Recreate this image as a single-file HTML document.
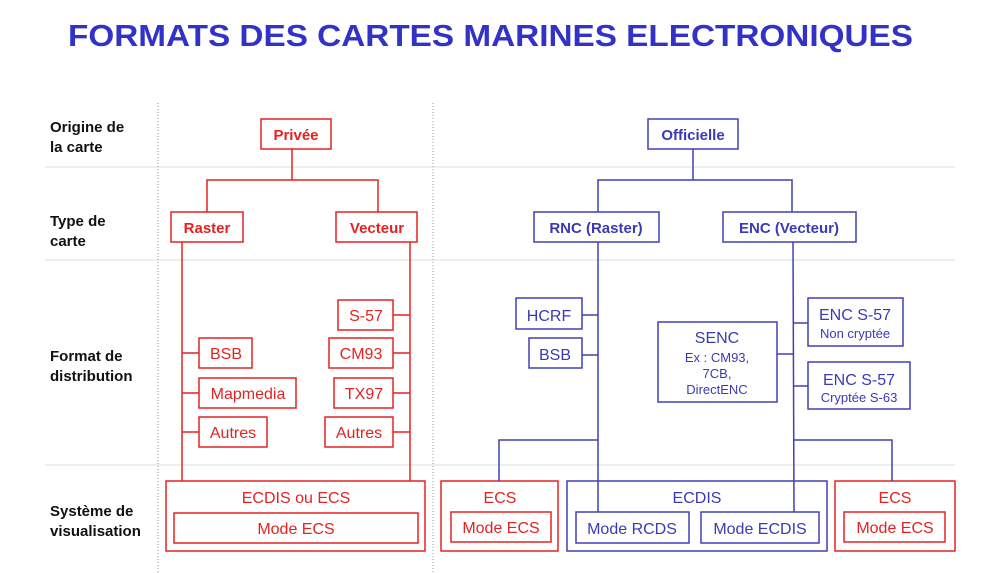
<!DOCTYPE html>
<html><head><meta charset="utf-8"><style>
body{margin:0;background:#fff;width:1000px;height:573px;overflow:hidden}
svg{display:block;font-family:"Liberation Sans",Arial,sans-serif}
</style></head><body>
<svg width="1000" height="573" viewBox="0 0 1000 573">
<text x="68" y="46" font-size="31" font-weight="bold" fill="#3232c8" textLength="845" lengthAdjust="spacingAndGlyphs">FORMATS DES CARTES MARINES ELECTRONIQUES</text>
<g stroke="#dddddd" stroke-width="1">
<line x1="45" y1="167" x2="955" y2="167"/><line x1="45" y1="260" x2="955" y2="260"/><line x1="45" y1="465" x2="955" y2="465"/>
</g>
<g stroke="#999" stroke-width="1" stroke-dasharray="1,2">
<line x1="158" y1="103" x2="158" y2="573"/><line x1="433" y1="103" x2="433" y2="573"/>
</g>
<g font-size="15" font-weight="bold" fill="#111">
<text x="50" y="132">Origine de</text><text x="50" y="152">la carte</text>
<text x="50" y="226">Type de</text><text x="50" y="246">carte</text>
<text x="50" y="361">Format de</text><text x="50" y="381">distribution</text>
<text x="50" y="516">Système de</text><text x="50" y="536">visualisation</text>
</g>
<g stroke="#e52222" stroke-width="1.5" fill="none">
<rect x="261" y="119" width="70" height="30"/>
<rect x="171" y="212" width="72" height="30"/>
<rect x="336" y="212" width="81" height="30"/>
<polyline points="292,149 292,180"/><polyline points="207,212 207,180 378,180 378,212"/>
<line x1="182" y1="242" x2="182" y2="481"/><line x1="410" y1="242" x2="410" y2="481"/>
<rect x="338" y="300" width="55" height="30"/><line x1="393" y1="315" x2="410" y2="315"/>
<rect x="199" y="338" width="53" height="30"/><line x1="182" y1="353" x2="199" y2="353"/>
<rect x="199" y="378" width="97" height="30"/><line x1="182" y1="393" x2="199" y2="393"/>
<rect x="199" y="417" width="68" height="30"/><line x1="182" y1="432" x2="199" y2="432"/>
<rect x="329" y="338" width="64" height="30"/><line x1="393" y1="353" x2="410" y2="353"/>
<rect x="334" y="378" width="59" height="30"/><line x1="393" y1="393" x2="410" y2="393"/>
<rect x="325" y="417" width="68" height="30"/><line x1="393" y1="432" x2="410" y2="432"/>
<rect x="166" y="481" width="259" height="70"/><rect x="174" y="513" width="244" height="30"/>
<rect x="441" y="481" width="117" height="70"/><rect x="451" y="512" width="100" height="30"/>
<rect x="835" y="481" width="120" height="70"/><rect x="844" y="512" width="101" height="30"/>
</g>
<g fill="#e52222" font-size="16" text-anchor="middle">
<text x="296" y="140" font-weight="bold" font-size="15">Privée</text>
<text x="207" y="233" font-weight="bold" font-size="15">Raster</text>
<text x="377" y="233" font-weight="bold" font-size="15">Vecteur</text>
<text x="366" y="321">S-57</text><text x="226" y="359">BSB</text><text x="248" y="399">Mapmedia</text><text x="233" y="438">Autres</text>
<text x="361" y="359">CM93</text><text x="364" y="399">TX97</text><text x="359" y="438">Autres</text>
<text x="296" y="503">ECDIS ou ECS</text><text x="296" y="534">Mode ECS</text>
<text x="500" y="503">ECS</text><text x="501" y="533">Mode ECS</text>
<text x="895" y="503">ECS</text><text x="895" y="533">Mode ECS</text>
</g>
<g stroke="#4040b8" stroke-width="1.5" fill="none">
<rect x="648" y="119" width="90" height="30"/>
<rect x="534" y="212" width="125" height="30"/>
<rect x="723" y="212" width="133" height="30"/>
<polyline points="693,149 693,180"/><polyline points="598,212 598,180 792,180 792,212"/>
<line x1="598" y1="242" x2="598" y2="512"/><line x1="793" y1="242" x2="794" y2="512"/>
<rect x="516" y="298" width="66" height="31"/><line x1="582" y1="315" x2="598" y2="315"/>
<rect x="529" y="338" width="53" height="30"/><line x1="582" y1="355" x2="598" y2="355"/>
<rect x="658" y="322" width="119" height="80"/><line x1="777" y1="354" x2="793" y2="354"/>
<rect x="808" y="298" width="95" height="48"/><line x1="793" y1="323" x2="808" y2="323"/>
<rect x="808" y="362" width="102" height="47"/><line x1="793" y1="386" x2="808" y2="386"/>
<polyline points="499,481 499,440 598,440"/><polyline points="794,440 892,440 892,481"/>
<rect x="567" y="481" width="260" height="70"/>
<rect x="576" y="512" width="113" height="31"/><rect x="701" y="512" width="118" height="31"/>
</g>
<g fill="#3a3ab4" font-size="16" text-anchor="middle">
<text x="693" y="140" font-weight="bold" font-size="15">Officielle</text>
<text x="596" y="233" font-weight="bold" font-size="15">RNC (Raster)</text>
<text x="789" y="233" font-weight="bold" font-size="15">ENC (Vecteur)</text>
<text x="549" y="321">HCRF</text><text x="555" y="360">BSB</text>
<text x="717" y="343">SENC</text>
<text x="717" y="362" font-size="13">Ex : CM93,</text>
<text x="717" y="378" font-size="13">7CB,</text>
<text x="717" y="394" font-size="13">DirectENC</text>
<text x="855" y="320">ENC S-57</text><text x="855" y="338" font-size="13">Non cryptée</text>
<text x="859" y="385">ENC S-57</text><text x="859" y="402" font-size="13">Cryptée S-63</text>
<text x="697" y="503">ECDIS</text>
<text x="632" y="534">Mode RCDS</text><text x="760" y="534">Mode ECDIS</text>
</g>
</svg>
</body></html>
